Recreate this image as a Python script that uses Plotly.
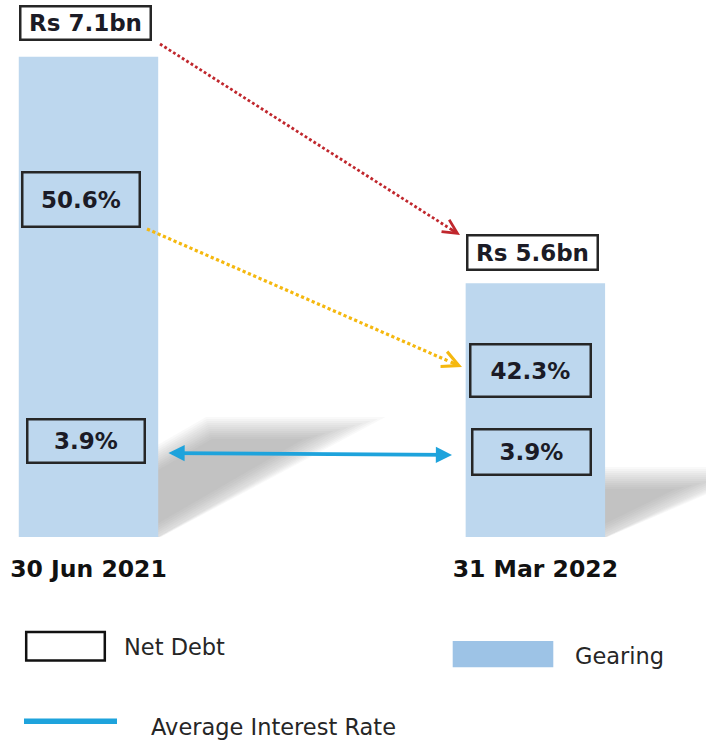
import math
import plotly.graph_objects as go

# ---- data -------------------------------------------------------------
categories = ["30 Jun 2021", "31 Mar 2022"]
net_debt_bn = [7.1, 5.6]        # bar heights, labelled "Rs x.xbn"
gearing_pct = [50.6, 42.3]
interest_pct = [3.9, 3.9]       # average interest rate

legend_labels = ["Net Debt", "Gearing", "Average Interest Rate"]

# ---- canvas / axis set-up -------------------------------------------------
W, H = 706, 741
AXIS_BOTTOM_PX = 537            # pixel row where the bars stand
X_RANGE = [-0.198, 1.3818]
Y_RANGE = [3.92, 7.475]         # truncated value axis
BAR_W = 0.312

BAR_COLOR = "#bdd7ee"
PATCH_COLOR = "#9dc3e6"
BOX_LINE = "#262626"
TEXT_DARK = "#1b1b26"
RED = "#c0272d"
YELLOW = "#f5b80f"
BLUE = "#1ea3dc"
FONT = "DejaVu Sans"


def px_x(xv):
    return (xv - X_RANGE[0]) / (X_RANGE[1] - X_RANGE[0]) * W


def px_y(v):
    return AXIS_BOTTOM_PX - (v - Y_RANGE[0]) / (Y_RANGE[1] - Y_RANGE[0]) * AXIS_BOTTOM_PX


def paper(px, py):
    return px / W, 1 - py / H


def inset(poly, d):
    """Offset a convex polygon (pixel coords) inward by d (negative = outward)."""
    n = len(poly)
    area = sum(poly[i][0] * poly[(i + 1) % n][1] - poly[(i + 1) % n][0] * poly[i][1]
               for i in range(n)) / 2
    sgn = 1 if area > 0 else -1
    lines = []
    for i in range(n):
        p, q = poly[i], poly[(i + 1) % n]
        ex, ey = q[0] - p[0], q[1] - p[1]
        L = math.hypot(ex, ey)
        nx, ny = sgn * -ey / L, sgn * ex / L
        lines.append(((p[0] + d * nx, p[1] + d * ny), (ex, ey)))
    out = []
    for i in range(n):
        (p1, e1), (p2, e2) = lines[i - 1], lines[i]
        cr = e1[0] * e2[1] - e1[1] * e2[0]
        t = ((p2[0] - p1[0]) * e2[1] - (p2[1] - p1[1]) * e2[0]) / cr
        out.append((p1[0] + t * e1[0], p1[1] + t * e1[1]))
    return out


def clip_left(poly, xmin):
    """Keep the part of a convex polygon with x >= xmin."""
    out = []
    n = len(poly)
    for i in range(n):
        p, q = poly[i], poly[(i + 1) % n]
        pin, qin = p[0] >= xmin, q[0] >= xmin
        if pin:
            out.append(p)
        if pin != qin:
            t = (xmin - p[0]) / (q[0] - p[0])
            out.append((xmin, p[1] + t * (q[1] - p[1])))
    return out


def path_of(poly):
    pts = [paper(x, y) for x, y in poly]
    return "M " + " L ".join(f"{x:.5f},{y:.5f}" for x, y in pts) + " Z"


fig = go.Figure()

fig.add_trace(go.Bar(
    x=list(range(len(categories))),
    y=net_debt_bn,
    width=BAR_W,
    marker=dict(color=BAR_COLOR, line=dict(width=0)),
    hoverinfo="skip",
    showlegend=False,
))

shapes = []
annotations = []

# ---- soft cast shadows behind each bar --------------------------------
# translucent parallelograms grown/shrunk around the same outline stack up
# into a blurred shadow; only the part beside the bar is kept
shadow_offsets = [(190, 110), (122, 60)]   # (right, up) shift of the shadow top
spread = [-10, -8, -6, -4, -2, 0, 2, 4, 6, 8, 10, 12]
for i, (dx, dy) in enumerate(shadow_offsets):
    xl, xr = px_x(i - BAR_W / 2), px_x(i + BAR_W / 2)
    yb = AXIS_BOTTOM_PX
    base = [(xl, yb), (xr, yb), (xr + dx, yb - dy), (xl + dx, yb - dy)]
    base = clip_left(base, xr - 20)
    for d in spread:
        poly = [(x, min(y, yb)) for x, y in inset(base, d)]
        shapes.append(dict(type="path", path=path_of(poly),
                           xref="paper", yref="paper", layer="below",
                           fillcolor="rgba(110,110,110,0.044)",
                           line=dict(width=0)))

# ---- boxed value labels --------------------------------------------------
def box(text, cx, cy, w, h, bg="rgba(0,0,0,0)"):
    x, y = paper(cx, cy)
    annotations.append(dict(
        text=text, x=x, y=y, xref="paper", yref="paper",
        xanchor="center", yanchor="middle", showarrow=False,
        width=w - 5, height=h - 5, borderwidth=2.5, borderpad=0,
        bordercolor=BOX_LINE, bgcolor=bg,
        font=dict(family=FONT, size=23, color=TEXT_DARK, weight="bold"),
    ))


# net debt boxes sit just above each bar top
debt_box_gap = [16, 12]
debt_box_size = [(133, 36), (133, 37)]
for i, v in enumerate(net_debt_bn):
    w, h = debt_box_size[i]
    cy = px_y(v) - debt_box_gap[i] - h / 2
    box(f"Rs {v:.1f}bn", px_x(i) - 2.5, cy, w, h, bg="white")

gearing_box_pos = [(81, 199.5, 120, 57), (530, 370, 123, 55)]
for v, (cx, cy, w, h) in zip(gearing_pct, gearing_box_pos):
    box(f"{v:.1f}%", cx, cy, w, h)

interest_box_pos = [(85.7, 441, 120, 46), (531, 452, 121, 48)]
for v, (cx, cy, w, h) in zip(interest_pct, interest_box_pos):
    box(f"{v:.1f}%", cx, cy, w, h)

# ---- dotted change arrows --------------------------------------------------
def dotted_arrow(x0, y0, x1, y1, color, width, dash, head_len):
    ux, uy = x1 - x0, y1 - y0
    L = math.hypot(ux, uy)
    ux, uy = ux / L, uy / L
    tx, ty = x1 - ux * head_len, y1 - uy * head_len
    a, b = paper(x0, y0)
    c, d = paper(tx, ty)
    shapes.append(dict(type="line", x0=a, y0=b, x1=c, y1=d,
                       xref="paper", yref="paper",
                       line=dict(color=color, width=width, dash=dash)))
    hx, hy = paper(x1, y1)
    annotations.append(dict(
        text="", font=dict(size=1), x=hx, y=hy, xref="paper", yref="paper",
        ax=-ux * head_len, ay=-uy * head_len, axref="pixel", ayref="pixel",
        showarrow=True, arrowhead=5, arrowsize=1.0, arrowwidth=width,
        arrowcolor=color, standoff=0,
    ))


dotted_arrow(160, 44, 460, 235, RED, 2.8, "2.8px,2.4px", 14)
dotted_arrow(147, 229, 462, 367, YELLOW, 3.2, "3.2px,2.6px", 14)

# ---- interest-rate double arrow ----------------------------------------------
hx, hy = paper(452, 455)
annotations.append(dict(
    text="", font=dict(size=1), x=hx, y=hy, xref="paper", yref="paper",
    ax=167 - 452, ay=453 - 455, axref="pixel", ayref="pixel",
    showarrow=True, arrowside="end+start",
    arrowhead=2, startarrowhead=2, arrowsize=0.85, startarrowsize=0.85,
    arrowwidth=3.8, arrowcolor=BLUE, standoff=0, startstandoff=0,
))

# ---- legend ------------------------------------------------------------------
def legend_text(text, left, cy):
    x, y = paper(left, cy)
    annotations.append(dict(
        text=text, x=x, y=y, xref="paper", yref="paper",
        xanchor="left", yanchor="middle", showarrow=False,
        font=dict(family=FONT, size=22.5, color="#262626"),
    ))


a, b = paper(26.2, 632)
c, d = paper(104.8, 660.5)
shapes.append(dict(type="rect", x0=a, y0=b, x1=c, y1=d, xref="paper", yref="paper",
                   line=dict(color="#111111", width=2.5), fillcolor="white"))
legend_text(legend_labels[0], 122, 646.5)

a, b = paper(452.7, 641)
c, d = paper(553.3, 667.3)
shapes.append(dict(type="rect", x0=a, y0=b, x1=c, y1=d, xref="paper", yref="paper",
                   line=dict(width=0), fillcolor=PATCH_COLOR))
legend_text(legend_labels[1], 572.5, 655.5)

a, b = paper(24, 721.3)
c, d = paper(117, 721.3)
shapes.append(dict(type="line", x0=a, y0=b, x1=c, y1=d, xref="paper", yref="paper",
                   line=dict(color=BLUE, width=5.5)))
legend_text(legend_labels[2], 149, 727)

fig.update_layout(
    width=W, height=H,
    margin=dict(l=0, r=0, t=0, b=0),
    paper_bgcolor="white", plot_bgcolor="white",
    shapes=shapes, annotations=annotations,
    showlegend=False,
    xaxis=dict(
        range=X_RANGE, domain=[0, 1],
        tickmode="array", tickvals=list(range(len(categories))), ticktext=categories,
        tickfont=dict(family=FONT, size=23.5, color="#111111", weight="bold"),
        ticks="", showgrid=False, zeroline=False, showline=False,
        ticklabelstandoff=15, automargin=False, fixedrange=True,
    ),
    yaxis=dict(
        range=Y_RANGE, domain=[(H - AXIS_BOTTOM_PX) / H, 1],
        visible=False, fixedrange=True,
    ),
)

fig.write_html("out.html")
